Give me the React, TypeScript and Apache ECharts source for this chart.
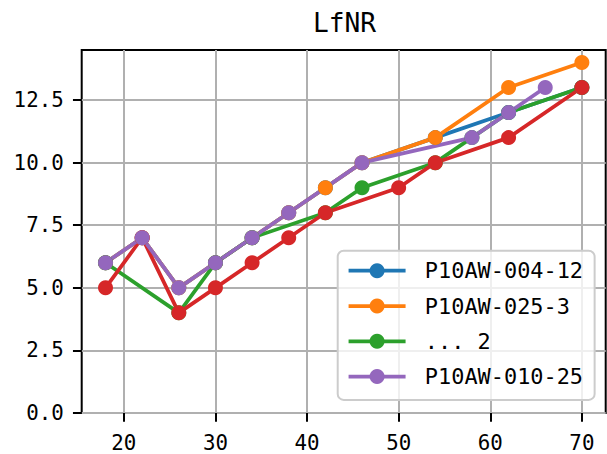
import React, { useEffect, useRef } from "react";
import * as echarts from "echarts";

const TITLE = "LfNR";
const FONT = "'DejaVu Sans Mono', monospace";

const xTicks = [20, 30, 40, 50, 60, 70];
const yTicks = [0, 2.5, 5, 7.5, 10, 12.5];

const seriesNames = ["P10AW-004-12", "P10AW-025-3", "... 2", "_nolegend_", "P10AW-010-25"];
const legendNames = ["P10AW-004-12", "P10AW-025-3", "... 2", "P10AW-010-25"];
const colors = ["#1f77b4", "#ff7f0e", "#2ca02c", "#d62728", "#9467bd"];

const blueX = [18, 22, 26, 30, 34, 38, 42, 46, 54, 62, 70];
const blueY = [6, 7, 5, 6, 7, 8, 9, 10, 11, 12, 13];
const orangeX = [18, 22, 26, 30, 34, 38, 42, 46, 54, 62, 70];
const orangeY = [6, 7, 5, 6, 7, 8, 9, 10, 11, 13, 14];
const greenX = [18, 26, 30, 34, 42, 46, 54, 58, 62, 70];
const greenY = [6, 4, 6, 7, 8, 9, 10, 11, 12, 13];
const redX = [18, 22, 26, 30, 34, 38, 42, 50, 54, 62, 70];
const redY = [5, 7, 4, 5, 6, 7, 8, 9, 10, 11, 13];
const purpleX = [18, 22, 26, 30, 34, 38, 46, 58, 62, 66];
const purpleY = [6, 7, 5, 6, 7, 8, 10, 11, 12, 13];

const allX = [blueX, orangeX, greenX, redX, purpleX];
const allY = [blueY, orangeY, greenY, redY, purpleY];

export default function App() {
  const ref = useRef<HTMLDivElement>(null);
  useEffect(() => {
    document.body.style.margin = "0";
    const chart = echarts.init(ref.current!, null, { renderer: "svg" });
    const series = seriesNames.map((name, i) => ({
      name,
      type: "line",
      data: allX[i].map((x, j) => [x, allY[i][j]]),
      symbol: "circle",
      symbolSize: 15,
      showSymbol: true,
      color: colors[i],
      lineStyle: { width: 3.75, color: colors[i] },
      itemStyle: { color: colors[i] },
      emphasis: { disabled: true },
      z: 2,
    }));
    chart.setOption({
      animation: false,
      title: {
        text: TITLE,
        left: 313,
        top: 8,
        padding: 0,
        textStyle: { fontFamily: FONT, fontSize: 26.2, fontWeight: "normal", color: "#000", lineHeight: 30 },
      },
      grid: {
        left: 81.7,
        right: 1.3,
        top: 50,
        bottom: 41,
        show: true,
        borderColor: "#000",
        borderWidth: 2,
        containLabel: false,
      },
      legend: {
        data: legendNames,
        orient: "vertical",
        left: 337.7,
        top: 250.7,
        padding: [7.4, 11.6, 10.7, 9],
        itemWidth: 57,
        itemHeight: 18.75,
        itemGap: 10.1,
        lineStyle: { width: 3.75 },
        textStyle: { fontFamily: FONT, fontSize: 21.9, color: "#000", lineHeight: 25.2, padding: [0, 0, 0, 14.3] },
        backgroundColor: "rgba(255,255,255,0.8)",
        borderColor: "#cccccc",
        borderWidth: 2,
        borderRadius: 6,
        selectedMode: false,
        z: 10,
      },
      xAxis: {
        type: "value",
        min: 15.4,
        max: 72.6,
        axisLine: { show: false },
        axisTick: { show: true, length: 8.75, customValues: xTicks, lineStyle: { color: "#000", width: 2 } },
        axisLabel: { customValues: xTicks, margin: 19, fontFamily: FONT, fontSize: 20.8, color: "#000" },
        splitLine: { show: true, lineStyle: { color: "#b0b0b0", width: 2 } },
      },
      yAxis: {
        type: "value",
        min: 0,
        max: 14.5,
        axisLine: { show: false },
        axisTick: { show: true, length: 8.75, customValues: yTicks, lineStyle: { color: "#000", width: 2 } },
        axisLabel: {
          customValues: yTicks,
          margin: 18,
          fontFamily: FONT,
          fontSize: 20.8,
          color: "#000",
          formatter: (v: number) => v.toFixed(1),
        },
        splitLine: { show: true, lineStyle: { color: "#b0b0b0", width: 2 } },
      },
      series,
    });
    return () => chart.dispose();
  }, []);
  return <div ref={ref} style={{ position: "absolute", left: 0, top: 0, width: 607, height: 454 }} />;
}
